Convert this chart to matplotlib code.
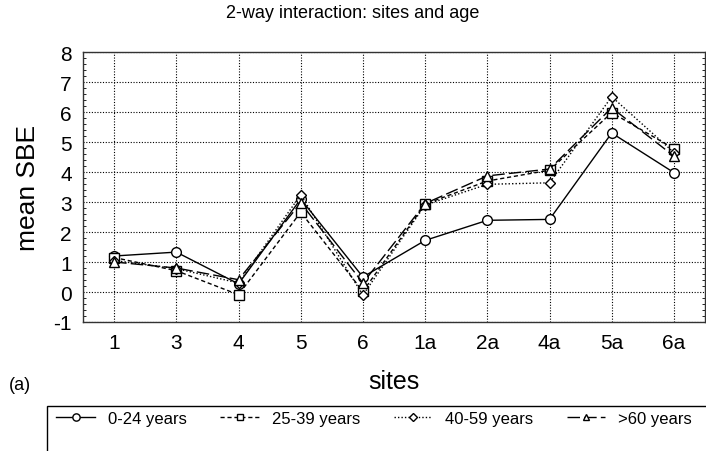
import numpy as np
import matplotlib.pyplot as plt
from matplotlib.patches import Rectangle
from matplotlib.ticker import MultipleLocator

plt.rcParams['font.family'] = ['Liberation Sans', 'DejaVu Sans']
plt.rcParams['axes.unicode_minus'] = False

# Sites on the x axis
sites = ['1', '3', '4', '5', '6', '1a', '2a', '4a', '5a', '6a']

# Mean SBE per age group
age_0_24 = [1.20, 1.33, 0.27, 3.10, 0.50, 1.72, 2.39, 2.42, 5.30, 3.98]
age_25_39 = [1.15, 0.71, -0.09, 2.66, 0.02, 2.93, 3.70, 4.06, 5.98, 4.78]
age_40_59 = [1.05, 0.78, 0.30, 3.24, -0.10, 2.90, 3.59, 3.64, 6.51, 4.65]
age_60 = [1.00, 0.80, 0.41, 2.97, 0.30, 2.95, 3.87, 4.10, 6.14, 4.53]

labels = ['0-24 years', '25-39 years', '40-59 years', '>60 years']

fig = plt.figure(figsize=(7.06, 4.52), dpi=100)
ax = fig.add_axes([0.1176, 0.2854, 0.8810, 0.5973])

x = np.arange(len(sites))
mk = dict(color='black', markerfacecolor='white', markeredgecolor='black', lw=1.0)
l1, = ax.plot(x, age_0_24, marker='o', ms=7, ls='-', **mk)
l2, = ax.plot(x, age_25_39, marker='s', ms=6.5, ls=(0, (3, 2)), **mk)
l3, = ax.plot(x, age_40_59, marker='D', ms=5, ls=(0, (1, 1.5)), **mk)
l4, = ax.plot(x, age_60, marker='^', ms=6.5, ls=(0, (9, 3)), **mk)

ax.set_xlim(-0.5, 9.5)
ax.set_ylim(-1, 8)
ax.set_xticks(x)
ax.set_xticklabels(sites)
ax.yaxis.set_major_locator(MultipleLocator(1))
ax.yaxis.set_minor_locator(MultipleLocator(0.2))
ax.tick_params(axis='both', which='major', labelsize=15, length=0, pad=8)
ax.tick_params(axis='y', which='minor', direction='in', length=2, right=True, left=True)
ax.grid(True, which='major', color='black', ls=(0, (1, 1.5)), lw=0.8)
for s in ax.spines.values():
    s.set_linewidth(1.0)
    s.set_color('#333333')

ax.set_ylabel('mean SBE', fontsize=19, labelpad=10)
ax.set_xlabel('sites', fontsize=18, labelpad=12)
fig.text(0.5, 0.97, '2-way interaction: sites and age', ha='center', va='center', fontsize=13)
fig.text(0.028, 0.148, '(a)', ha='center', va='center', fontsize=13)

fig.patches.append(Rectangle((0.067, -0.1), 1.0, 0.2, transform=fig.transFigure,
                             fill=False, edgecolor='black', lw=1.0))
fig.legend([l1, l2, l3, l4], labels, loc='center left', bbox_to_anchor=(0.08, 0.072),
           ncol=4, frameon=False, fontsize=12, handlelength=2.3, columnspacing=2.0,
           handletextpad=0.8, markerscale=0.75, borderaxespad=0, borderpad=0)

fig.savefig('out.png', dpi=100)
